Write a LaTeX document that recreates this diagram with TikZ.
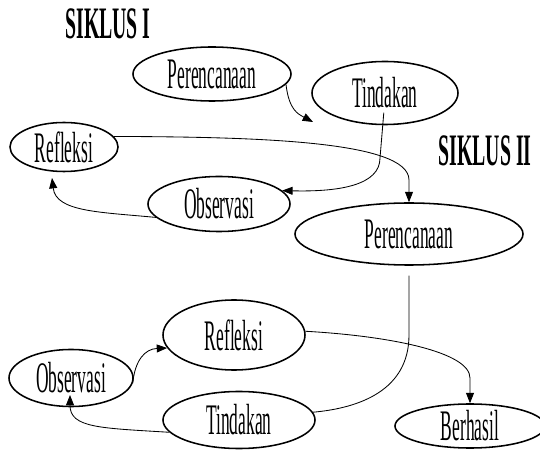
\documentclass[tikz,border=0pt]{standalone}
\usepackage{fontspec}
\setmainfont{Liberation Serif}[FakeStretch=0.40]
\newfontfamily\titlefont{Liberation Serif}[FakeStretch=0.44]
\usetikzlibrary{arrows.meta, shapes.geometric}
\tikzset{
  oval/.style={draw, ellipse, line width=1.1pt, inner sep=0pt, font=\fontsize{31}{33}\selectfont},
  title/.style={font=\titlefont\bfseries\fontsize{32}{34}\selectfont},
  arr/.style={-{Triangle[length=2.6mm, width=2mm]}, line width=0.6pt},
  lin/.style={line width=0.6pt},
}
\begin{document}
\begin{tikzpicture}[x=0.025cm, y=-0.025cm]
    \useasboundingbox (0,0) rectangle (540,452);
    \node[title] (s1) at (108,24) {SIKLUS I};
    \node[title] (s2) at (485,151) {SIKLUS II};
    \node[oval, minimum width=3.95cm, minimum height=1.35cm] (perI) at (212,74) {Perencanaan};
    \node[oval, minimum width=3.65cm, minimum height=1.575cm] (tinI) at (385,93) {Tindakan};
    \node[oval, minimum width=2.7cm, minimum height=1.225cm] (refI) at (64,147) {Refleksi};
    \node[oval, minimum width=3.55cm, minimum height=1.375cm] (obsI) at (219,204) {Observasi};
    \node[oval, minimum width=5.7cm, minimum height=1.55cm] (perII) at (409,234) {Perencanaan};
    \node[oval, minimum width=3.55cm, minimum height=1.75cm] (refII) at (234,335) {Refleksi};
    \node[oval, minimum width=3.1cm, minimum height=1.425cm] (obsII) at (71,378) {Observasi};
    \node[oval, minimum width=3.8cm, minimum height=1.425cm] (tinII) at (239,420) {Tindakan};
    \node[oval, minimum width=3.75cm, minimum height=1.1cm] (hasil) at (470,426) {Berhasil};
    \coordinate (t1) at (313,122);
    \coordinate (r1) at (52,178);
    \coordinate (o2) at (70,395);
    \draw[arr] (perI.-8) .. controls (289,110) and (298,114) .. (t1);
    \draw[arr, shorten <=-9pt] (tinI.-94) -- (380,158) .. controls (380,185) and (340,192) .. (obsI.12);
    \draw[arr] (obsI.192) .. controls (100,212) and (56,212) .. (r1);
    \draw[arr] (refI.12) .. controls (250,137) and (409,140) .. (409,180) -- (perII.north);
    \draw[lin, shorten <=7pt] (perII.south) -- (409,335) .. controls (409,390) and (360,408) .. (tinII.6);
    \draw[arr] (tinII.190) .. controls (100,428) and (70,428) .. (o2);
    \draw[arr] (obsII.-5) .. controls (135,360) and (145,349) .. (refII.191);
    \draw[arr] (refII.3) .. controls (390,336) and (470,352) .. (470,378) -- (hasil.north);
  \end{tikzpicture}
\end{document}
